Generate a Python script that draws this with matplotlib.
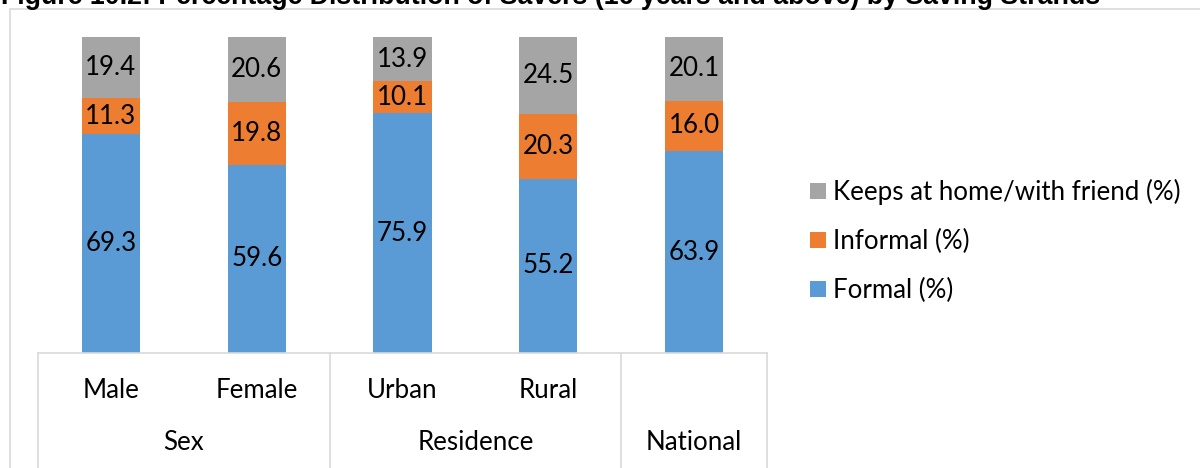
import matplotlib
matplotlib.use("Agg")
import matplotlib.pyplot as plt
from matplotlib.patches import Rectangle, Patch
import numpy as np

'''
DATA
'''
categories = ["Male", "Female", "Urban", "Rural", ""]
groups = ["Sex", "Residence", "National"]
group_bounds = [(-0.5, 1.5), (1.5, 3.5), (3.5, 4.5)]

formal = [69.3, 59.6, 75.9, 55.2, 63.9]
informal = [11.3, 19.8, 10.1, 20.3, 16.0]
home = [19.4, 20.6, 13.9, 24.5, 20.1]

series_names = ["Formal (%)", "Informal (%)", "Keeps at home/with friend (%)"]
colors = ["#5B9BD5", "#ED7D31", "#A5A5A5"]

'''
PLOT
'''
W, H = 1200, 468
fig = plt.figure(figsize=(W / 100, H / 100), dpi=100)
plt.rcParams['font.family'] = ['Lato', 'DejaVu Sans']
fs = 18.6
grid_col = "#D9D9D9"

# outer chart frame (runs off right/bottom edge)
fig.add_artist(Rectangle((9.5 / W, -0.2), 2.0, (H - 8.5) / H + 0.2,
                         transform=fig.transFigure, fill=False,
                         edgecolor=grid_col, lw=1.2))

# title, clipped at top like the source
fig.text(1 / W, (H - 4) / H,
         "Figure 10.2: Percentage Distribution of Savers (16 years and above) by Saving Strands",
         family="Liberation Sans", fontweight="bold", fontsize=19.3,
         ha="left", va="baseline")

ax = fig.add_axes([38 / W, (H - 353) / H, (767 - 38) / W, (353 - 37) / H])
x = np.arange(len(categories))
bottom = np.zeros(len(categories))
handles = []
for vals, name, col in zip([formal, informal, home], series_names, colors):
    bars = ax.bar(x, vals, 0.4, bottom=bottom, color=col, label=name)
    for xi, b, v in zip(x, bottom, vals):
        ax.text(xi, b + v / 2, f"{v:.1f}", ha="center", va="center",
                fontsize=fs, color="black")
    bottom = bottom + np.array(vals)
    handles.append(Patch(facecolor=col, label=name))

ax.set_xlim(-0.5, len(categories) - 0.5)
ax.set_ylim(0, 100)
ax.set_yticks([])
ax.set_xticks([])
for s in ["top", "right", "left"]:
    ax.spines[s].set_visible(False)
ax.spines["bottom"].set_color(grid_col)
ax.spines["bottom"].set_linewidth(1.2)

# multi-level category axis
tr = ax.get_xaxis_transform()
sub_y = -(390 - 353) / (353 - 37)
grp_y = -(443 - 353) / (353 - 37)
for xi, c in zip(x, categories):
    ax.text(xi, sub_y, c, transform=tr, ha="center", va="center", fontsize=fs)
for g, (a, b) in zip(groups, group_bounds):
    ax.text((a + b) / 2, grp_y, g, transform=tr, ha="center", va="center", fontsize=fs)
for xb in [-0.5, 1.5, 3.5, 4.5]:
    ax.plot([xb, xb], [0, -0.5], transform=tr, color=grid_col, lw=1.2, clip_on=False)

leg = ax.legend(handles=handles[::-1], loc="center left",
                bbox_to_anchor=(810 / W, (H - 241) / H),
                bbox_transform=fig.transFigure, frameon=False, fontsize=fs,
                borderpad=0, borderaxespad=0, handlelength=0.6, handleheight=0.6,
                handletextpad=0.3, labelspacing=0.93)

fig.savefig("out.png", dpi=100)
